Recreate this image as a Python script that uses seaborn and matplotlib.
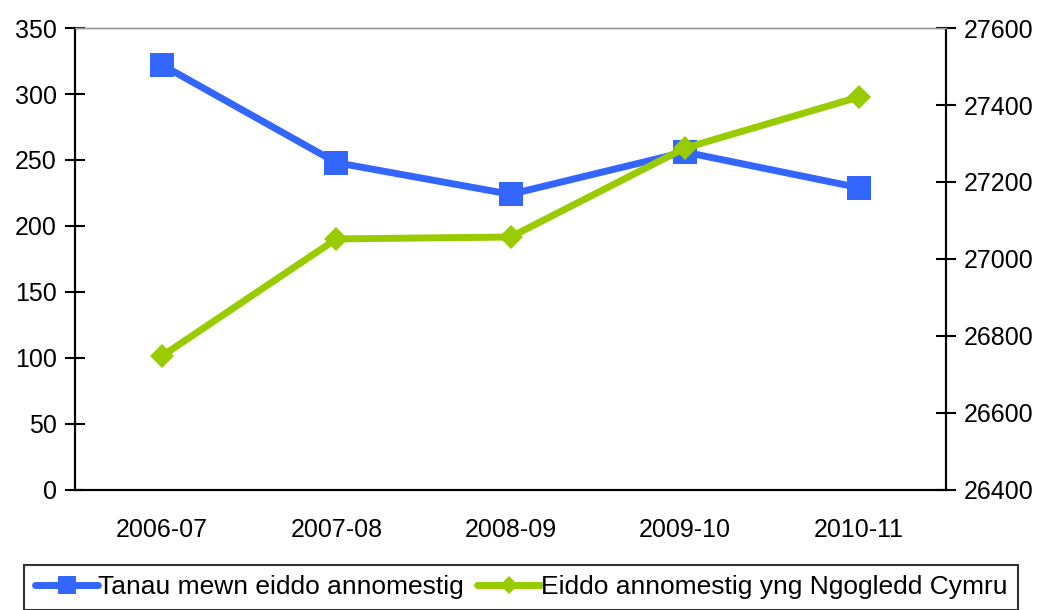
import matplotlib
matplotlib.use("Agg")
import matplotlib.pyplot as plt
import seaborn as sns
import numpy as np

years = ["2006-07", "2007-08", "2008-09", "2009-10", "2010-11"]
fires = [322, 248, 224, 256, 229]
properties = [26748, 27052, 27057, 27288, 27421]

label_fires = "Tanau mewn eiddo annomestig"
label_props = "Eiddo annomestig yng Ngogledd Cymru"

sns.set_style("white")
plt.rcParams['font.family'] = ['Liberation Sans', 'DejaVu Sans']
plt.rcParams['text.color'] = 'black'
plt.rcParams['xtick.color'] = 'black'
plt.rcParams['ytick.color'] = 'black'

fig = plt.figure(figsize=(10.42, 6.1), dpi=100)
ax = fig.add_axes([0.072, 0.197, 0.836, 0.757])
ax2 = ax.twinx()

x = np.arange(len(years))
sns.lineplot(x=x, y=fires, ax=ax, color="#3366FF", linewidth=5, marker="s",
             markersize=17, markeredgewidth=0, label=label_fires, legend=False)
sns.lineplot(x=x, y=properties, ax=ax2, color="#99CC00", linewidth=5, marker="D",
             markersize=12, markeredgewidth=0, label=label_props, legend=False)

ax.set_xlim(-0.5, len(years) - 0.5)
ax.set_ylim(0, 350)
ax.set_yticks(range(0, 351, 50))
ax2.set_ylim(26400, 27600)
ax2.set_yticks(range(26400, 27601, 200))

ax.set_xticks(x)
ax.set_xticklabels(years)
ax.set_xticks(np.arange(-0.5, len(years), 1), minor=True)
ax.tick_params(axis="x", which="major", length=0, pad=20, labelsize=18)
ax.tick_params(axis="x", which="minor", length=14, width=1.5, direction="inout")
ax.tick_params(axis="y", length=14, width=1.5, direction="inout", labelsize=18,
               left=True, pad=6)
ax2.tick_params(axis="y", length=14, width=1.5, direction="inout", labelsize=18,
                right=True, pad=6)

for a in (ax, ax2):
    a.spines["top"].set_color("#999999")
    a.spines["top"].set_linewidth(1.0)
    for s in ("left", "right", "bottom"):
        a.spines[s].set_linewidth(1.5)
        a.spines[s].set_color("black")

h1, l1 = ax.get_legend_handles_labels()
h2, l2 = ax2.get_legend_handles_labels()
leg = fig.legend(h1 + h2, l1 + l2, loc="upper center", bbox_to_anchor=(0.5, 0.074),
                 ncol=2, fontsize=19, frameon=True, fancybox=False, edgecolor="black",
                 handlelength=2.4, handletextpad=0.0, columnspacing=0.5,
                 borderpad=0.4, borderaxespad=0, markerscale=0.75)
leg.get_frame().set_linewidth(1.5)

fig.savefig("out.png", dpi=100)
plt.close()
